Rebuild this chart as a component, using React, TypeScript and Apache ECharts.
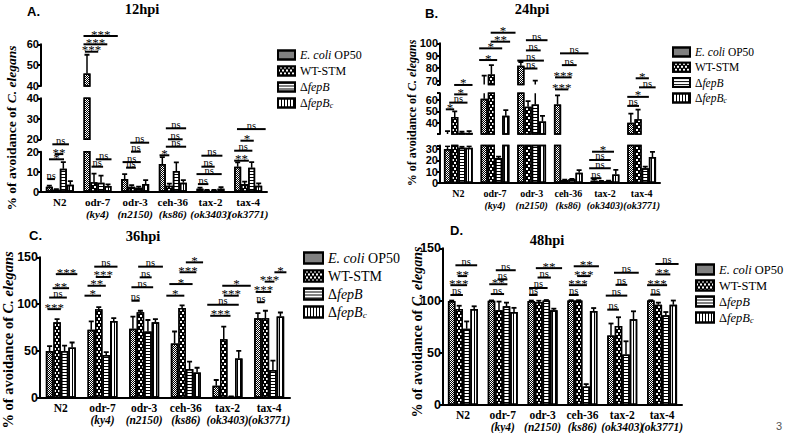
import React, { useEffect, useRef } from 'react';
import * as echarts from 'echarts';

const categories = ['N2', 'odr-7', 'odr-3', 'ceh-36', 'tax-2', 'tax-4'];
const alleles = ['', 'ky4', 'n2150', 'ks86', 'ok3403', 'ok3771'];
const strains = ['E. coli OP50', 'WT-STM', 'ΔfepB', 'ΔfepBc'];

// rows: strains, columns: categories
const mean12 = [
  [2.5, 46, 6.3, 13.8, 1.5, 12.5],
  [1, 4.7, 2.5, 3, 0.7, 3.8],
  [11.5, 4.5, 2, 10.3, 0.7, 12],
  [3.5, 2.8, 3.8, 4.5, 1.5, 3],
];
const err12 = [
  [0.5, 9, 2.5, 3.5, 0.5, 2.2],
  [0.3, 4.3, 0.8, 1, 0.2, 1.2],
  [3.3, 3.5, 0.5, 4.4, 0.2, 2.8],
  [1.8, 0.9, 2, 1.3, 0.8, 1.2],
];
const mean24 = [
  [30, 61, 82, 56, 2, 40],
  [45, 75, 54, 2.6, 1.5, 43],
  [31, 22, 56, 3.2, 1.8, 13],
  [31, 46, 41, 9, 7.6, 23],
];
const err24 = [
  [2.5, 13, 3, 8, 1.2, 8],
  [5, 7.5, 5, 0.3, 0.3, 8.5],
  [1, 1.2, 14, 0.5, 0.3, 1.5],
  [1.5, 5, 5, 2.4, 4, 4.4],
];
const mean36 = [
  [50, 72.5, 73.6, 57.9, 12.9, 85],
  [80.7, 94.6, 91.4, 95.7, 62.5, 85],
  [50, 45.7, 70.7, 30.7, 1, 29.6],
  [53.6, 82, 80.7, 27, 42, 86.8],
];
const err36 = [
  [5, 9, 13, 12.8, 6, 5.4],
  [3.3, 2.2, 1.5, 2.9, 13.5, 7.9],
  [5.7, 2.9, 12.3, 7.9, 0.5, 10],
  [5.4, 3, 3.3, 5, 8, 4.2],
];
const mean48 = [
  [99.5, 99.8, 99.5, 100, 66.5, 100],
  [92, 90.6, 98.6, 100, 75.6, 96],
  [73, 94.6, 100, 17.8, 48.4, 86],
  [92, 89, 90.6, 90, 82, 96],
];
const err48 = [
  [0.5, 0.3, 0.5, 0.3, 11.5, 0.3],
  [3, 8.4, 1.2, 0.3, 8.4, 2],
  [7, 3.4, 0.5, 2.2, 12.6, 3],
  [2.5, 4, 1.6, 2.8, 7.7, 4],
];

// significance lines: [category, from (bar units), to (bar units), level, label]
type Sig = [number, number, number, number, string];
const sig12: Sig[] = [
  [0, -1.8, -0.7, 6.3, 'ns'], [0, -1.55, 0.6, 16.2, '*'], [0, -0.74, 0.5, 18.8, '**'], [0, -1.07, 1.3, 23.7, 'ns'],
  [1, -0.86, 0.8, 12.5, 'ns'], [1, -0.24, 2.0, 16.2, 'ns'], [1, -1.8, 0.1, 70, '***'], [1, -2.0, 1.4, 73.7, '***'], [1, -2.0, 2.9, 77.8, '***'],
  [2, -1.3, 0.1, 12, 'ns'], [2, -1.8, 0.8, 14.8, 'ns'], [2, -0.6, 0.8, 20, 'ns'], [2, -0.7, 2.0, 24.5, 'ns'],
  [3, -1.9, -0.5, 18.2, '*'], [3, -1.0, 1.9, 22.5, 'ns'], [3, -0.7, 1.4, 26.2, 'ns'], [3, -1.0, 1.9, 31.7, 'ns'],
  [4, -1.8, -0.3, 3.8, 'ns'], [4, -2.0, 1.6, 8.8, 'ns'], [4, -1.3, 0.6, 12.5, 'ns'], [4, -1.3, 1.7, 18, 'ns'],
  [5, -2.0, 0.1, 15.5, '**'], [5, -2.0, 0.6, 20.5, 'ns'], [5, -1.1, 0.8, 25.5, '*'], [5, -1.6, 2.5, 31.3, 'ns'],
];
const sig24: Sig[] = [
  [0, -1.74, -0.58, 65, '*'], [0, -1.27, 1.27, 70.9, 'ns'], [0, -0.58, 1.27, 78.2, '*'], [0, -0.58, 1.97, 86.5, '*'],
  [1, -2.2, 0.3, 108.5, '*'], [1, -2.2, 1.0, 118.8, '*'], [1, -0.6, 2.1, 124.7, '**'], [1, -0.6, 2.85, 132.6, '*'],
  [2, -1.06, 0.8, 101, 'ns'], [2, -2.0, 1.7, 108, 'ns'], [2, -0.8, 1.25, 117, 'ns'], [2, -0.8, 2.2, 126, 'ns'],
  [3, -1.85, 0, 82.6, '***'], [3, -1.85, 0.46, 93.2, '***'], [3, -0.9, 1.16, 104, 'ns'], [3, -1.16, 2.8, 114.4, 'ns'],
  [4, -2.0, -0.5, 4.2, 'ns'], [4, -2.2, 0.8, 13, 'ns'], [4, -2.2, 0.8, 20.3, 'ns'], [4, -1.8, 1.25, 27.6, '*'],
  [5, -2.0, -0.37, 68, 'ns'], [5, -2.0, 1.0, 76, '*'], [5, -0.37, 1.94, 84.4, 'ns'], [5, -0.83, 1.0, 92.4, '*'],
];
const sig36: Sig[] = [
  [0, -1.78, 0, 94.6, '***'], [0, -1.56, 0.8, 107, 'ns'], [0, -1.1, 1.1, 117, '**'], [0, -0.67, 2.2, 132, '***'],
  [1, -2.4, -0.2, 109, '*'], [1, -2, 0.44, 119.6, '**'], [1, -0.9, 1.1, 129, '***'], [1, -1.1, 2, 140, 'ns'],
  [2, -1.7, -0.6, 103.6, 'ns'], [2, -1.7, 1.2, 118, 'ns'], [2, -0.6, 1, 128.6, 'ns'], [2, -0.8, 2.5, 140, 'ns'],
  [3, -2.6, -0.2, 109, '*'], [3, -2.2, 0.9, 121.4, '*'], [3, -0.84, 1.4, 134, '***'], [3, 0, 2.3, 144.6, '*'],
  [4, -2.3, 0.4, 87.5, '***'], [4, -2.7, 1.5, 99.3, 'ns'], [4, -0.5, 1.5, 109, '***'], [4, -0.7, 3.1, 119.6, '*'],
  [5, -1.6, -0.6, 102, 'ns'], [5, -1.8, 0.27, 113, '***'], [5, -0.6, 0.7, 124, '***'], [5, 0.7, 2.3, 134, '*'],
];
const sig48: Sig[] = [
  [0, -1.67, 0, 105.3, 'ns'], [0, -1.67, 0.56, 114.7, '***'], [0, -0.7, 0.56, 123.4, '**'], [0, -1, 1.9, 133.75, 'ns'],
  [1, -1.6, 0.18, 106.2, 'ns'], [1, -1.8, 0.62, 115.6, '**'], [1, -0.7, 0.62, 120.2, 'ns'], [1, -0.93, 1.73, 129, 'ns'],
  [2, -1.8, -0.67, 105.3, 'ns'], [2, -1.8, 0.67, 112, 'ns'], [2, -0.67, 1.1, 122, 'ns'], [2, -0.9, 2.6, 131, '**'],
  [3, -1.8, -0.5, 105.3, 'ns'], [3, -1.8, 0.6, 114.7, '***'], [3, -0.7, 1.07, 123.4, '***'], [3, -1.16, 2.2, 132.8, '**'],
  [4, -2, -0.44, 91.25, 'ns'], [4, -2.2, 0.67, 104.7, 'ns'], [4, -0.9, 0.67, 115, 'ns'], [4, -1.1, 2.2, 126.6, 'ns'],
  [5, -1.56, -0.22, 105.6, 'ns'], [5, -2, 0.67, 114.7, '***'], [5, -0.9, 1.1, 125, '**'], [5, -0.9, 2.2, 135, 'ns'],
];

const SERIF = 'Liberation Serif';
const SANS = 'Liberation Sans';

type Seg = { min: number; max: number; top: number; height: number; interval?: number; ticks?: number[]; labels?: number[] };
type Panel = {
  mean: number[][]; err: number[][]; sig: Sig[];
  left: number; width: number; barW: number; segs: Seg[];
  tickFont: number; catFont: number; catLine: number;
  legend: { left: number; top: number; iw: number; ih: number; gap: number; font: number; lh: number };
};

const panels: Panel[] = [
  {
    mean: mean12, err: err12, sig: sig12, left: 41, width: 226, barW: 7,
    segs: [
      { min: 0, max: 20, top: 151.7, height: 40, interval: 5 },
      { min: 20, max: 40, top: 98.3, height: 41, interval: 5 },
      { min: 40, max: 60, top: 44.3, height: 41.7, interval: 5 },
    ],
    tickFont: 11, catFont: 11, catLine: 12.5,
    legend: { left: 277, top: 49, iw: 17, ih: 9, gap: 4, font: 12, lh: 11 },
  },
  {
    mean: mean24, err: err24, sig: sig24, left: 440, width: 220, barW: 7.2,
    segs: [
      { min: 0, max: 33, top: 145.6, height: 37.4, ticks: [0, 10, 20, 30, 33], labels: [0, 10, 20, 30] },
      { min: 30, max: 66, top: 93.2, height: 40.8, ticks: [30, 40, 50, 60, 66], labels: [40, 50, 60] },
      { min: 67, max: 100, top: 43.3, height: 41.1, ticks: [67, 70, 80, 90, 100], labels: [70, 80, 90, 100] },
    ],
    tickFont: 11, catFont: 10, catLine: 12,
    legend: { left: 672, top: 46, iw: 17, ih: 9, gap: 3.3, font: 11.5, lh: 11 },
  },
  {
    mean: mean36, err: err36, sig: sig36, left: 40, width: 250, barW: 7.5,
    segs: [{ min: 0, max: 150, top: 257.3, height: 140.4, interval: 50 }],
    tickFont: 12.5, catFont: 11.5, catLine: 12,
    legend: { left: 303, top: 251, iw: 19, ih: 11, gap: 4, font: 14, lh: 14 },
  },
  {
    mean: mean48, err: err48, sig: sig48, left: 443, width: 239, barW: 7.5,
    segs: [{ min: 0, max: 150, top: 248.3, height: 160, interval: 50 }],
    tickFont: 12.5, catFont: 11.5, catLine: 12,
    legend: { left: 695, top: 263, iw: 18, ih: 10, gap: 3, font: 12.5, lh: 12 },
  },
];

const barStyles = [
  { color: '#ffffff', borderColor: '#000', borderWidth: 1.5,
    decal: { symbol: 'rect', symbolSize: 1, color: '#000', dashArrayX: [[1, 1], [0, 1, 1, 0]], dashArrayY: [1, 0] } },
  { color: '#000000', borderColor: '#000', borderWidth: 1.5,
    decal: { symbol: 'rect', symbolSize: 1, color: '#fff', dashArrayX: [[2, 2], [0, 2, 2, 0]], dashArrayY: [2, 1] } },
  { color: '#ffffff', borderColor: '#000', borderWidth: 1.5,
    decal: { symbol: 'rect', symbolSize: 1, color: '#000', dashArrayX: [1, 0], dashArrayY: [1, 2] } },
  { color: '#ffffff', borderColor: '#000', borderWidth: 1.5,
    decal: { symbol: 'rect', symbolSize: 1, color: '#000', dashArrayX: [1, 2], dashArrayY: [1, 0] } },
];

function legendFormatter(name: string) {
  if (name === 'E. coli OP50') return '{i|E. coli} OP50';
  if (name === 'ΔfepB') return 'Δ{i|fepB}';
  if (name === 'ΔfepBc') return 'Δ{i|fepB}{s|c}';
  return name;
}

function buildOption() {
  const grid: any[] = [];
  const xAxis: any[] = [];
  const yAxis: any[] = [];
  const series: any[] = [];
  const legend: any[] = [];

  panels.forEach((p) => {
    let baseGrid = -1;
    p.segs.forEach((s, k) => {
      const g = grid.length;
      if (k === 0) baseGrid = g;
      grid.push({ left: p.left, top: s.top, width: p.width, height: s.height, containLabel: false });
      xAxis.push({
        type: 'category', gridIndex: g, data: categories, show: k === 0,
        axisLine: { show: true, lineStyle: { color: '#000', width: 2 } },
        axisTick: { show: false },
        axisLabel: {
          interval: 0, margin: 4, color: '#000', hideOverlap: false,
          formatter: (v: string, idx: number) => (alleles[idx] ? `{b|${v}}\n{i|(${alleles[idx]})}` : `{b|${v}}`),
          rich: {
            b: { fontFamily: SERIF, fontWeight: 'bold', fontSize: p.catFont, lineHeight: p.catLine, color: '#000' },
            i: { fontFamily: SERIF, fontWeight: 'bold', fontStyle: 'italic', fontSize: p.catFont, lineHeight: p.catLine, color: '#000' },
          },
        },
      });
      const y: any = {
        type: 'value', gridIndex: g, min: s.min, max: s.max,
        axisLine: { show: true, lineStyle: { color: '#000', width: 2 } },
        axisTick: { show: true, length: 3, lineStyle: { color: '#000', width: 2 } },
        axisLabel: {
          color: '#000', fontFamily: SANS, fontWeight: 'bold', fontSize: p.tickFont, margin: 2,
          showMinLabel: true, showMaxLabel: true, hideOverlap: false, lineHeight: p.tickFont,
        },
        splitLine: { show: false },
      };
      if (s.interval) y.interval = s.interval;
      if (s.ticks) {
        y.axisTick.customValues = s.ticks;
        y.axisLabel.customValues = s.labels;
      }
      yAxis.push(y);

      strains.forEach((name, i) => {
        series.push({
          type: 'bar', name, xAxisIndex: g, yAxisIndex: g, data: p.mean[i],
          barWidth: p.barW, barGap: '0%', itemStyle: barStyles[i], silent: true, clip: true,
        });
      });
      const errData: number[][] = [];
      p.mean.forEach((row, i) => row.forEach((v, c) => errData.push([c, v, p.err[i][c], i])));
      series.push({
        type: 'custom', xAxisIndex: g, yAxisIndex: g, data: errData, clip: true, silent: true, z: 5,
        encode: { x: 0, y: 1 },
        renderItem: (_params: any, api: any) => {
          const c = api.value(0), v = api.value(1), e = api.value(2), bi = api.value(3);
          const p0 = api.coord([c, v]);
          const p1 = api.coord([c, v + e]);
          const x = p0[0] + (bi - 1.5) * p.barW;
          return {
            type: 'group',
            children: [
              { type: 'line', shape: { x1: x, y1: p0[1], x2: x, y2: p1[1] }, style: { stroke: '#000', lineWidth: 1.5 } },
              { type: 'line', shape: { x1: x - 2.5, y1: p1[1], x2: x + 2.5, y2: p1[1] }, style: { stroke: '#000', lineWidth: 1.8 } },
            ],
          };
        },
      });
    });

    const sig = p.sig;
    series.push({
      type: 'custom', xAxisIndex: baseGrid, yAxisIndex: baseGrid, clip: false, silent: true, z: 6,
      data: sig.map((b) => [b[0], b[3]]),
      encode: { x: 0, y: 1 },
      renderItem: (params: any, api: any) => {
        const b = sig[params.dataIndex];
        const c = api.coord([api.value(0), api.value(1)]);
        const x1 = c[0] + b[1] * p.barW;
        const x2 = c[0] + b[2] * p.barW;
        const y = c[1];
        const star = b[4].indexOf('*') >= 0;
        return {
          type: 'group',
          children: [
            { type: 'line', shape: { x1, y1: y, x2, y2: y }, style: { stroke: '#000', lineWidth: 2 } },
            {
              type: 'text',
              style: {
                text: b[4], x: (x1 + x2) / 2, y: y + (star ? 4.5 : 1.5),
                align: 'center', verticalAlign: 'bottom',
                fontFamily: SERIF, fontSize: star ? 13 : 10.5, fontWeight: 'normal', fill: '#000',
              },
            },
          ],
        };
      },
    });

    const L = p.legend;
    legend.push({
      data: strains, orient: 'vertical', left: L.left, top: L.top, itemWidth: L.iw, itemHeight: L.ih,
      itemGap: L.gap, icon: 'rect', selectedMode: false, padding: 0,
      formatter: legendFormatter,
      textStyle: {
        fontFamily: SERIF, fontSize: L.font, color: '#000', lineHeight: L.lh,
        rich: {
          i: { fontFamily: SERIF, fontStyle: 'italic', fontSize: L.font, color: '#000', lineHeight: L.lh },
          s: { fontFamily: SERIF, fontStyle: 'italic', fontSize: L.font * 0.65, color: '#000', padding: [5, 0, 0, 0] },
        },
      },
    });
  });

  const txt = (text: string, x: number, y: number, family: string, size: number, align = 'center') => ({
    type: 'text', x, y, silent: true,
    style: {
      text, fontFamily: family, fontSize: size, fontWeight: 'bold', fill: '#000',
      align, verticalAlign: 'middle',
    },
  });
  const yName = (x: number, y: number, size: number) => ({
    type: 'text', x, y, rotation: Math.PI / 2, silent: true,
    style: {
      text: '{b|% of avoidance of }{bi|C. elegans}',
      align: 'center', verticalAlign: 'middle',
      rich: {
        b: { fontFamily: SERIF, fontWeight: 'bold', fontSize: size, fill: '#000' },
        bi: { fontFamily: SERIF, fontWeight: 'bold', fontStyle: 'italic', fontSize: size, fill: '#000' },
      },
    },
  });

  const graphic: any[] = [
    txt('A.', 27, 11, SANS, 13, 'left'),
    txt('B.', 425, 13, SANS, 13, 'left'),
    txt('C.', 29, 235, SANS, 13, 'left'),
    txt('D.', 450, 230, SANS, 13, 'left'),
    txt('12hpi', 142, 9, SERIF, 14.5),
    txt('24hpi', 532, 9, SERIF, 14.5),
    txt('36hpi', 143, 236, SERIF, 14.5),
    txt('48hpi', 547, 240, SERIF, 14.5),
    yName(11, 128, 13.5),
    yName(411.5, 113, 12),
    yName(8, 340, 14.5),
    yName(417, 332, 14),
    { type: 'text', x: 779, y: 426, silent: true,
      style: { text: '3', fontFamily: SANS, fontSize: 11, fill: '#555', align: 'center', verticalAlign: 'middle' } },
  ];

  return {
    animation: false,
    backgroundColor: '#ffffff',
    textStyle: { fontFamily: SERIF },
    grid, xAxis, yAxis, series, legend, graphic,
  };
}

export default function App() {
  const ref = useRef<HTMLDivElement>(null);
  useEffect(() => {
    document.body.style.margin = '0';
    const chart = echarts.init(ref.current!, undefined, { renderer: 'svg' });
    chart.setOption(buildOption() as any);
    return () => chart.dispose();
  }, []);
  return <div ref={ref} style={{ width: 791, height: 433 }} />;
}
